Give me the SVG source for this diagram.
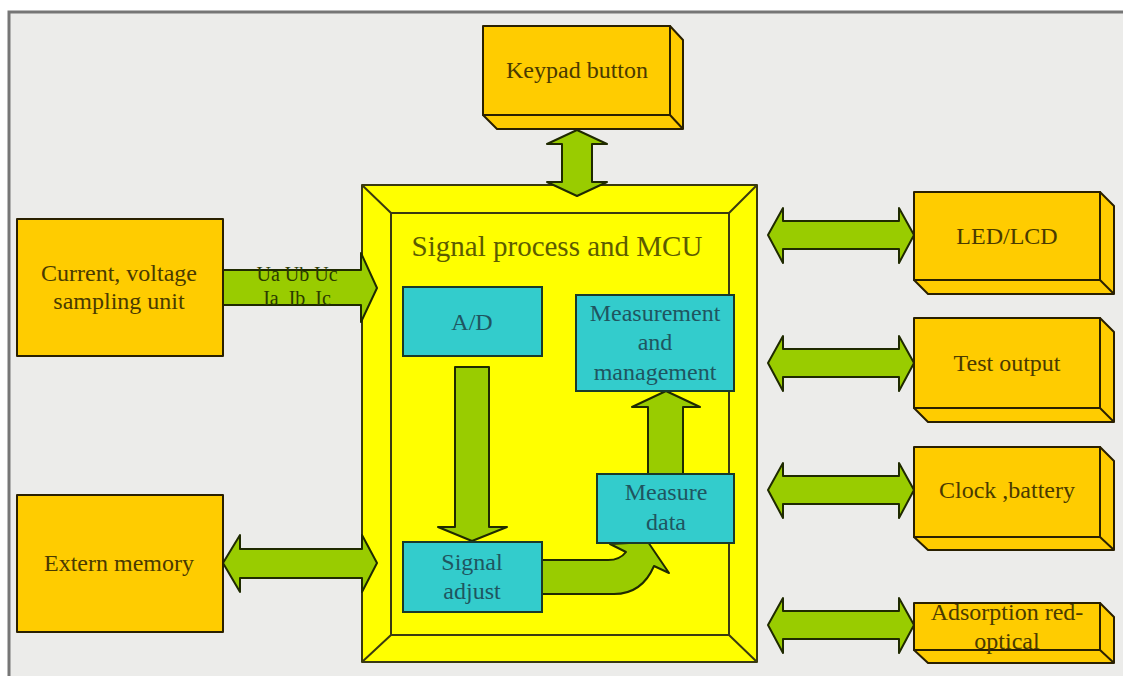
<svg xmlns="http://www.w3.org/2000/svg" width="1123" height="676" viewBox="0 0 1123 676">
<style>
.box{fill:#ffcc00;stroke:#2a2000;stroke-width:2;stroke-linejoin:round}
.cy{fill:#33cccc;stroke:#1a3a2a;stroke-width:2}
.mcu{fill:#ffff00;stroke:#3a3a10;stroke-width:2;stroke-linejoin:round}
.arr{fill:#99cc00;stroke:#1f2a00;stroke-width:2;stroke-linejoin:round}
.t{font-family:"Liberation Serif","Times New Roman",serif;font-size:24px;fill:#4a3a00;text-anchor:middle}
.tc{font-family:"Liberation Serif","Times New Roman",serif;font-size:24px;fill:#1f5560;text-anchor:middle}
.tt{font-family:"Liberation Serif","Times New Roman",serif;font-size:29px;fill:#5c5c00;text-anchor:middle}
.ts{font-family:"Liberation Serif","Times New Roman",serif;font-size:20px;fill:#2a3a00;text-anchor:middle;white-space:pre}
</style>
<rect x="0" y="0" width="1123" height="676" fill="#ffffff"/>
<rect x="9" y="12" width="1114" height="664" fill="#ececea"/>
<path d="M9,676 V12 H1123" fill="none" stroke="#767676" stroke-width="3"/>

<g id="mcu">
<rect class="mcu" x="362" y="185" width="395" height="477"/>
<path class="mcu" d="M362,185 L391,213 M757,185 L729,213 M362,662 L391,635 M757,662 L729,635" fill="none"/>
<rect class="mcu" x="391" y="213" width="338" height="422"/>
<text class="tt" x="557" y="256">Signal process and MCU</text>
</g>

<g id="connectors">
<path class="arr" d="M577,130 L607,144 H592 V182 H607 L577,196 L547,182 H562 V144 H547 Z"/>
<path class="arr" d="M223,270 H361 V253 L377,288 L361,322 V305 H223 Z"/>
<path class="arr" d="M223,563 L240,535 V549 H362 V535 L377,563 L362,592 V578 H240 V592 Z"/>
<path class="arr" d="M768,235 L783,208 V221 H899 V208 L914,235 L899,263 V249 H783 V263 Z"/>
<path class="arr" d="M768,363 L783,336 V349 H899 V336 L914,363 L899,391 V377 H783 V391 Z"/>
<path class="arr" d="M768,490 L783,463 V476 H899 V463 L914,490 L899,518 V504 H783 V518 Z"/>
<path class="arr" d="M768,625 L783,598 V611 H899 V598 L914,625 L899,653 V639 H783 V653 Z"/>
<path class="arr" d="M455,367 H489 V527 H507 L472,541 L438,527 H455 Z"/>
<path class="arr" d="M648,474 V407 H632 L666,391 L700,407 H683 V474 Z"/>
<path class="arr" d="M542,560 H608 Q620,560 626,552 L610,544 L648,542 L669,573 L654,566 Q642,594 614,594 H542 Z"/>
<text class="ts" x="297" y="281">Ua Ub Uc</text>
<text class="ts" x="297" y="305">Ia  Ib  Ic</text>
</g>

<g id="keypad">
<path class="box" d="M670,26 L683,40 V129 H497 L483,115 H670 Z"/>
<path class="box" d="M670,115 L683,129" fill="none"/>
<rect class="box" x="483" y="26" width="187" height="89"/>
<text class="t" x="577" y="78">Keypad button</text>
</g>

<g id="sampling">
<rect class="box" x="17" y="219" width="206" height="137"/>
<text class="t" x="119" y="281">Current, voltage</text>
<text class="t" x="119" y="309">sampling unit</text>
</g>

<g id="memory">
<rect class="box" x="17" y="495" width="206" height="137"/>
<text class="t" x="119" y="571">Extern memory</text>
</g>

<g id="ad">
<rect class="cy" x="403" y="287" width="139" height="69"/>
<text class="tc" x="472" y="330">A/D</text>
</g>

<g id="mm">
<rect class="cy" x="576" y="295" width="158" height="96"/>
<text class="tc" x="655" y="321">Measurement</text>
<text class="tc" x="655" y="350">and</text>
<text class="tc" x="655" y="380">management</text>
</g>

<g id="measuredata">
<rect class="cy" x="597" y="474" width="137" height="69"/>
<text class="tc" x="666" y="500">Measure</text>
<text class="tc" x="666" y="530">data</text>
</g>

<g id="signaladjust">
<rect class="cy" x="403" y="542" width="139" height="70"/>
<text class="tc" x="472" y="570">Signal</text>
<text class="tc" x="472" y="599">adjust</text>
</g>

<g id="led">
<path class="box" d="M1100,192 L1114,206 V294 H928 L914,280 H1100 Z"/>
<path class="box" d="M1100,280 L1114,294" fill="none"/>
<rect class="box" x="914" y="192" width="186" height="88"/>
<text class="t" x="1007" y="244">LED/LCD</text>
</g>

<g id="testout">
<path class="box" d="M1100,318 L1114,332 V422 H928 L914,408 H1100 Z"/>
<path class="box" d="M1100,408 L1114,422" fill="none"/>
<rect class="box" x="914" y="318" width="186" height="90"/>
<text class="t" x="1007" y="371">Test output</text>
</g>

<g id="clock">
<path class="box" d="M1100,447 L1114,461 V550 H928 L914,537 H1100 Z"/>
<path class="box" d="M1100,537 L1114,550" fill="none"/>
<rect class="box" x="914" y="447" width="186" height="90"/>
<text class="t" x="1007" y="498">Clock ,battery</text>
</g>

<g id="adsorption">
<path class="box" d="M1100,603 L1114,617 V663 H928 L914,650 H1100 Z"/>
<path class="box" d="M1100,650 L1114,663" fill="none"/>
<rect class="box" x="914" y="603" width="186" height="47"/>
<text class="t" x="1007" y="620">Adsorption red-</text>
<text class="t" x="1007" y="649">optical</text>
</g>
</svg>
